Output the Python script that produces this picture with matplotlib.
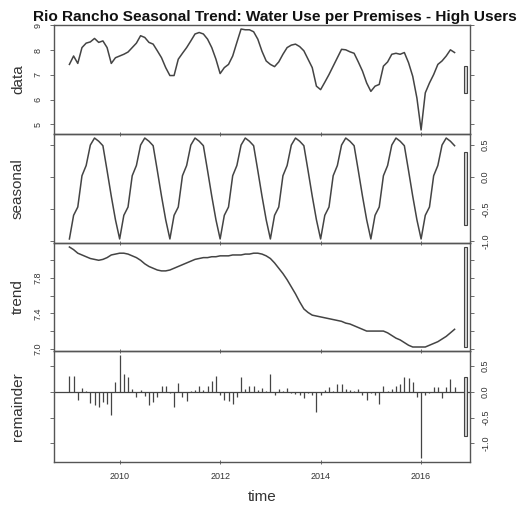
import numpy as np
import matplotlib
matplotlib.use("Agg")
import matplotlib.pyplot as plt
from matplotlib.patches import Rectangle

plt.rcParams['font.family'] = ['Liberation Sans', 'DejaVu Sans']

title = "Rio Rancho Seasonal Trend: Water Use per Premises - High Users"
panel_labels = ["data", "seasonal", "trend", "remainder"]
x_label = "time"
start_year = 2009
freq = 12

data = [7.42, 7.76, 7.46, 8.10, 8.28, 8.33, 8.47, 8.31, 8.37, 8.10, 7.46, 7.69,
        7.76, 7.83, 7.92, 8.10, 8.28, 8.58, 8.51, 8.31, 8.24, 7.97, 7.69, 7.29,
        6.97, 6.97, 7.63, 7.87, 8.10, 8.37, 8.65, 8.71, 8.65, 8.44, 8.10, 7.63,
        7.05, 7.29, 7.42, 7.76, 8.31, 8.85, 8.82, 8.82, 8.74, 8.44, 7.95, 7.56,
        7.42, 7.33, 7.52, 7.83, 8.10, 8.20, 8.24, 8.14, 7.97, 7.63, 7.29, 6.54,
        6.40, 6.70, 7.01, 7.35, 7.69, 8.03, 8.01, 7.93, 7.87, 7.52, 7.15, 6.67,
        6.33, 6.54, 6.61, 7.35, 7.52, 7.83, 7.87, 7.83, 7.90, 7.49, 6.94, 6.06,
        4.77, 6.27, 6.67, 7.01, 7.42, 7.56, 7.76, 8.01, 7.90]

seasonal = [-0.97, -0.60, -0.47, 0.02, 0.18, 0.50, 0.61, 0.56, 0.49, 0.10, -0.30, -0.67,
            -0.97, -0.60, -0.47, 0.02, 0.18, 0.50, 0.61, 0.56, 0.49, 0.10, -0.30, -0.67,
            -0.97, -0.60, -0.47, 0.02, 0.18, 0.50, 0.61, 0.56, 0.49, 0.10, -0.30, -0.67,
            -0.97, -0.60, -0.47, 0.02, 0.18, 0.50, 0.61, 0.56, 0.49, 0.10, -0.30, -0.67,
            -0.97, -0.60, -0.47, 0.02, 0.18, 0.50, 0.61, 0.56, 0.49, 0.10, -0.30, -0.67,
            -0.97, -0.60, -0.47, 0.02, 0.18, 0.50, 0.61, 0.56, 0.49, 0.10, -0.30, -0.67,
            -0.97, -0.60, -0.47, 0.02, 0.18, 0.50, 0.61, 0.56, 0.49, 0.10, -0.30, -0.67,
            -0.97, -0.60, -0.47, 0.02, 0.18, 0.50, 0.61, 0.56, 0.49]

trend = [8.15, 8.12, 8.08, 8.06, 8.04, 8.02, 8.01, 8.00, 8.01, 8.03, 8.06, 8.07,
         8.08, 8.08, 8.07, 8.05, 8.03, 8.00, 7.96, 7.93, 7.91, 7.89, 7.88, 7.88,
         7.89, 7.91, 7.93, 7.95, 7.97, 7.99, 8.01, 8.02, 8.03, 8.03, 8.04, 8.04,
         8.05, 8.05, 8.05, 8.06, 8.06, 8.06, 8.07, 8.07, 8.08, 8.08, 8.07, 8.05,
         8.02, 7.97, 7.91, 7.85, 7.78, 7.70, 7.62, 7.53, 7.45, 7.41, 7.38, 7.37,
         7.36, 7.35, 7.34, 7.33, 7.32, 7.31, 7.29, 7.28, 7.26, 7.24, 7.22, 7.20,
         7.20, 7.20, 7.20, 7.20, 7.18, 7.15, 7.12, 7.10, 7.07, 7.04, 7.02, 7.02,
         7.02, 7.02, 7.04, 7.06, 7.08, 7.11, 7.14, 7.18, 7.22]

remainder = [0.30, 0.30, -0.15, 0.08, 0.02, -0.22, -0.26, -0.30, -0.19, -0.24, -0.45, 0.19,
             0.71, 0.35, 0.29, 0.06, -0.10, 0.04, -0.08, -0.26, -0.19, -0.10, 0.11, 0.11,
             -0.02, -0.30, 0.17, -0.10, -0.17, 0.01, 0.04, 0.11, 0.04, 0.11, 0.21, 0.30,
             -0.06, -0.16, -0.17, -0.24, -0.10, 0.28, 0.06, 0.11, 0.11, 0.04, 0.08, 0.02,
             0.34, -0.06, 0.06, 0.02, 0.08, -0.03, -0.04, -0.06, -0.13, -0.03, -0.06, -0.40,
             -0.06, 0.04, 0.10, 0.02, 0.16, 0.16, 0.06, 0.03, 0.01, 0.05, -0.06, -0.15,
             -0.02, -0.06, -0.24, 0.11, 0.02, 0.06, 0.11, 0.16, 0.29, 0.26, 0.19, -0.10,
             -1.28, -0.06, -0.02, 0.10, 0.10, -0.13, 0.10, 0.24, 0.10]

x_ticks = [2010, 2012, 2014, 2016]
y_ticks = [[5, 6, 7, 8, 9],
           [-1.0, -0.5, 0.0, 0.5],
           [7.0, 7.2, 7.4, 7.6, 7.8, 8.0],
           [-1.0, -0.5, 0.0, 0.5]]
y_ticklabels = [["5", "6", "7", "8", "9"],
                ["-1.0", "-0.5", "0.0", "0.5"],
                ["7.0", "", "7.4", "", "7.8", ""],
                ["-1.0", "-0.5", "0.0", "0.5"]]

series = [np.array(data), np.array(seasonal), np.array(trend), np.array(remainder)]
n = len(data)
t = start_year + np.arange(n) / freq

W, H = 521, 508
fig = plt.figure(figsize=(W / 100, H / 100), dpi=100)
fig.patch.set_facecolor('white')

left_px, right_px = 54, 470
edges = [25, 134, 243, 351, 462]
line_col = '#444444'
frame_col = '#555555'

xr = t[-1] - t[0]
xlim = (t[0] - 0.04 * xr, t[-1] + 0.04 * xr)
mx = min(s.max() - s.min() for s in series)

for i, s in enumerate(series):
    top, bot = edges[i], edges[i + 1]
    ax = fig.add_axes([left_px / W, 1 - bot / H, (right_px - left_px) / W, (bot - top) / H])
    ax.set_facecolor('none')
    r = s.max() - s.min()
    ax.set_ylim(s.min() - 0.04 * r, s.max() + 0.04 * r)
    ax.set_xlim(*xlim)
    if i < 3:
        ax.plot(t, s, color=line_col, lw=1.1)
    else:
        ax.vlines(t, 0, s, color=line_col, lw=0.9)
        ax.axhline(0, color=line_col, lw=0.9)
    for sp in ax.spines.values():
        sp.set_color(frame_col)
        sp.set_linewidth(1.0)
    right = (i % 2 == 1)
    ax.set_yticks(y_ticks[i])
    ax.set_yticklabels(y_ticklabels[i])
    ax.tick_params(axis='y', left=True, right=True, labelleft=not right,
                   labelright=right, direction='out', length=3, width=0.6,
                   colors=frame_col, labelcolor='#333333', labelsize=6.5,
                   labelrotation=90, pad=5)
    ax.set_xticks(x_ticks)
    if i == 3:
        ax.tick_params(axis='x', bottom=True, labelbottom=True,
                       direction='out', length=3, width=0.6, colors=frame_col,
                       labelcolor='#333333', labelsize=6.5, pad=6)
        ax.set_xticklabels([str(v) for v in x_ticks])
    else:
        ax.tick_params(axis='x', bottom=False, labelbottom=False, colors=frame_col)
    if i > 0:
        ax.tick_params(axis='x', top=True, direction='inout', length=3, width=0.6)
    for lab in ax.get_yticklabels():
        lab.set_verticalalignment('center')
    # range bar
    ux = ax.get_xlim()
    dx = (ux[1] - ux[0]) / 64
    ym = (s.max() + s.min()) / 2
    ax.add_patch(Rectangle((ux[1] - dx, ym - mx / 2), 0.6 * dx, mx,
                           facecolor='#d3d3d3', edgecolor='#444444', lw=0.8,
                           clip_on=False, zorder=5))
    fig.text(18 / W, 1 - ((top + bot) / 2) / H, panel_labels[i], rotation=90,
             ha='center', va='center', fontsize=11, color='#333333')

fig.text(262 / W, 1 - 497 / H, x_label, ha='center', va='center', fontsize=11,
         color='#333333')
fig.text(275 / W, 1 - 17 / H, title, ha='center', va='center', fontsize=11.1,
         fontweight='bold', color='#111111')

fig.savefig("out.png", dpi=100)
